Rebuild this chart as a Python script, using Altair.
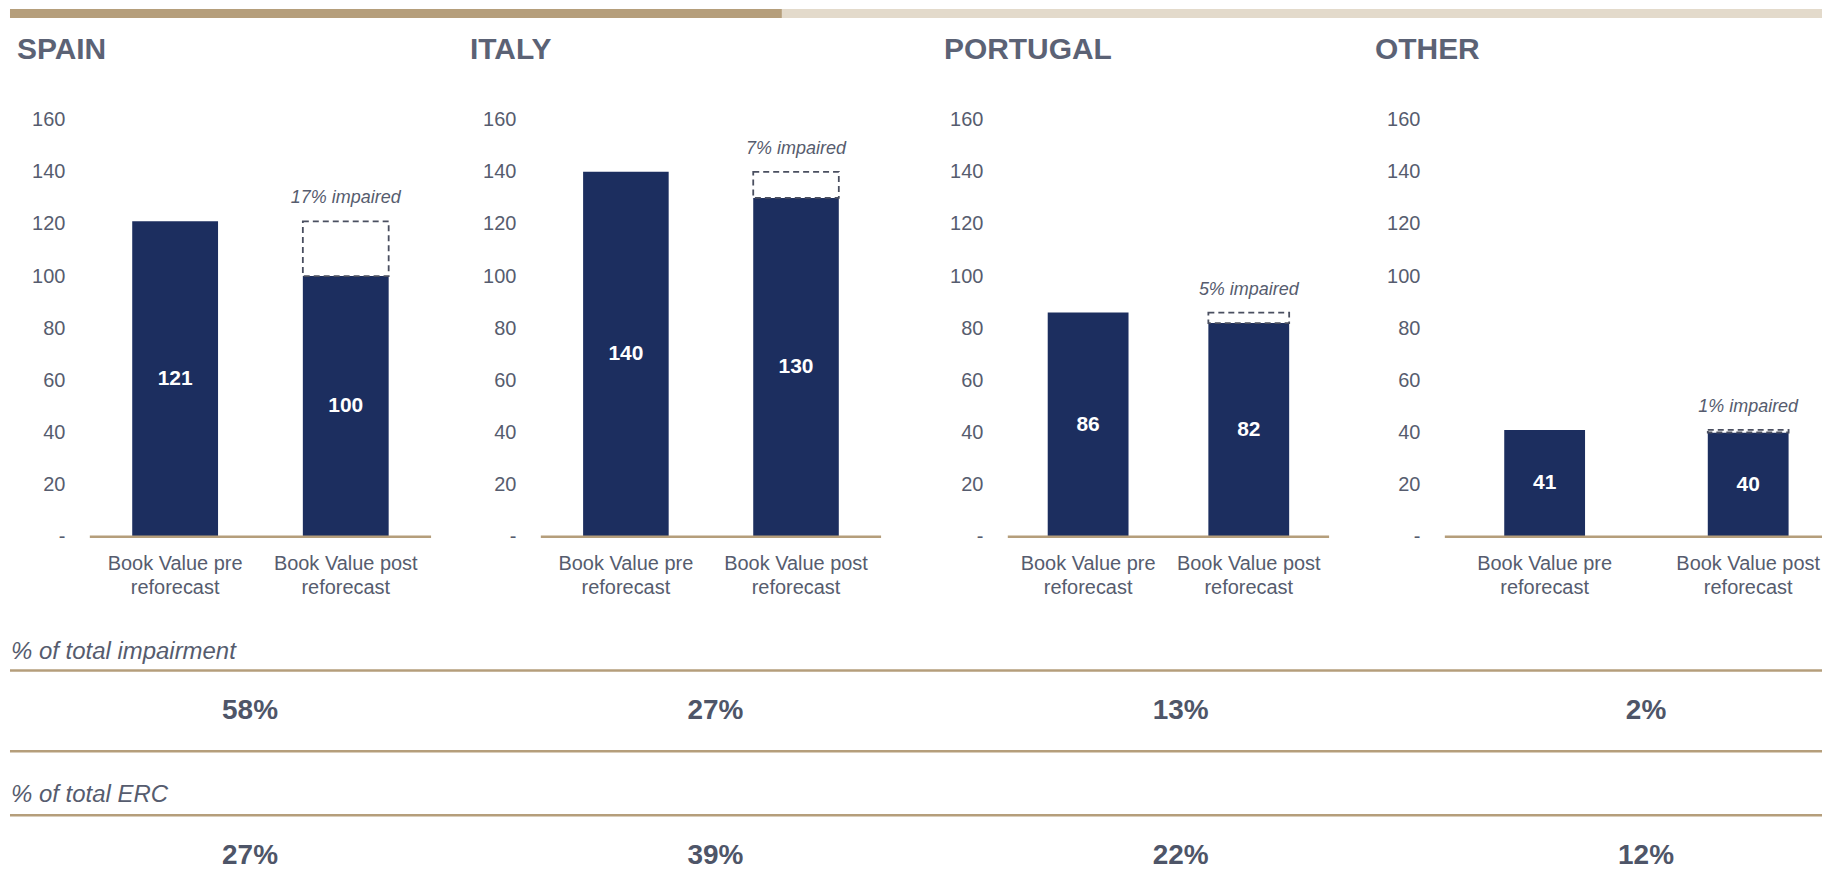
import altair as alt
import pandas as pd

# ---------------- data ----------------
countries = ["SPAIN", "ITALY", "PORTUGAL", "OTHER"]
categories = ["Book Value pre reforecast", "Book Value post reforecast"]
book_value_pre = [121, 140, 86, 41]
book_value_post = [100, 130, 82, 40]
impaired_labels = ["17% impaired", "7% impaired", "5% impaired", "1% impaired"]
metric_names = ["% of total impairment", "% of total ERC"]
impairment_share = [0.58, 0.27, 0.13, 0.02]
erc_share = [0.27, 0.39, 0.22, 0.12]
y_ticks = [0, 20, 40, 60, 80, 100, 120, 140, 160]
progress_split = [0.426]  # section indicator at top of the slide

# ---------------- styles ----------------
FONT = "Liberation Sans"
NAVY = "#1C2E5F"
TAN = "#B59E7B"
TAN_LIGHT = "#E3DACB"
GREY = "#565C6E"
TITLE_GREY = "#5B6275"
TOTAL_W = 1816

panel_widths = [342, 341, 322, 378]
gap_widths = [80, 110, 127, 116]
title_dx = [-73, -71, -64, -70]
band_params = [
    dict(paddingInner=0.497, paddingOuter=0.2485),
    dict(paddingInner=0.497, paddingOuter=0.2485),
    dict(paddingInner=0.497, paddingOuter=0.2485),
    dict(paddingInner=0.603, paddingOuter=0.228, align=0.64),
]
PLOT_H = 418


def spacer(w):
    return (
        alt.Chart(pd.DataFrame({"s": [0]}))
        .mark_rule(opacity=0)
        .encode(x=alt.value(0), y=alt.value(-102), y2=alt.value(488))
        .properties(width=w, height=PLOT_H)
    )


def panel(i):
    df = pd.DataFrame({
        "category": categories,
        "value": [book_value_pre[i], book_value_post[i]],
    })
    df["mid"] = df["value"] / 2
    box = pd.DataFrame({
        "category": [categories[1]],
        "pre": [book_value_pre[i]],
        "post": [book_value_post[i]],
        "label": [impaired_labels[i]],
    })
    xenc = alt.X(
        "category:N",
        sort=categories,
        scale=alt.Scale(domain=categories, **band_params[i]),
        axis=alt.Axis(
            title=None,
            labelAngle=0,
            domain=False,
            ticks=False,
            labelPadding=17,
            labelFont=FONT,
            labelFontSize=20,
            labelColor=GREY,
            labelLineHeight=24,
            labelOverlap=False,
            labelLimit=0,
            labelExpr="[replace(datum.label, ' reforecast', ''), 'reforecast']",
        ),
    )
    yscale = alt.Scale(domain=[0, 160], nice=False, zero=True)
    yenc = alt.Y(
        "value:Q",
        scale=yscale,
        axis=alt.Axis(
            title=None,
            values=y_ticks,
            domain=False,
            ticks=False,
            grid=False,
            labelPadding=25,
            labelFont=FONT,
            labelFontSize=20,
            labelColor=GREY,
            labelExpr="datum.value == 0 ? '-' : datum.label",
        ),
    )
    bars = alt.Chart(df).mark_bar(color=NAVY).encode(x=xenc, y=yenc)
    dashed = alt.Chart(box).mark_bar(
        fill="white", stroke="#4A4F60", strokeDash=[6, 4], strokeWidth=1.8
    ).encode(
        x=alt.X("category:N", sort=categories),
        y=alt.Y("pre:Q", title=None),
        y2="post:Q",
    )
    vals = alt.Chart(df).mark_text(
        font=FONT, fontSize=21, fontWeight="bold", color="white", baseline="middle"
    ).encode(
        x=alt.X("category:N", sort=categories),
        y=alt.Y("mid:Q", title=None),
        text=alt.Text("value:Q", format=".0f"),
    )
    imp = alt.Chart(box).mark_text(
        font=FONT, fontSize=18, fontStyle="italic", color=GREY, baseline="middle", dy=-23
    ).encode(
        x=alt.X("category:N", sort=categories),
        y=alt.Y("pre:Q", title=None),
        text="label:N",
    )
    base = alt.Chart(pd.DataFrame({"base": [0]})).mark_rule(
        color=TAN, strokeWidth=2.5
    ).encode(y=alt.Y("base:Q", title=None))
    return alt.layer(bars, dashed, vals, imp, base).properties(
        width=panel_widths[i],
        height=PLOT_H,
        title=alt.Title(
            countries[i],
            anchor="start",
            frame="group",
            dx=title_dx[i],
            offset=21,
            baseline="alphabetic",
            font=FONT,
            fontSize=30,
            fontWeight="bold",
            color=TITLE_GREY,
        ),
    )


# ---------------- header indicator ----------------
hdr_df = pd.DataFrame({
    "seg": ["done", "rest"],
    "start": [0, progress_split[0]],
    "end": [progress_split[0], 1],
})
header = alt.Chart(hdr_df).mark_rect().encode(
    x=alt.X("start:Q", scale=alt.Scale(domain=[0, 1], nice=False, zero=False), axis=None),
    x2="end:Q",
    y=alt.value(0),
    y2=alt.value(9),
    color=alt.Color("seg:N", scale=alt.Scale(domain=["done", "rest"], range=[TAN, TAN_LIGHT]), legend=None),
).properties(width=TOTAL_W, height=9)

# ---------------- panels ----------------
row_items = []
for i in range(4):
    row_items.append(spacer(gap_widths[i]))
    row_items.append(panel(i))
row = alt.hconcat(*row_items, spacing=0, bounds="flush")

# ---------------- table ----------------
tbl = pd.DataFrame({
    "country": countries * 2,
    "metric": [metric_names[0]] * 4 + [metric_names[1]] * 4,
    "share": impairment_share + erc_share,
})
xs = alt.X(
    "country:N",
    scale=alt.Scale(type="point", domain=countries, padding=0.447, align=0.577),
    axis=None,
)


def rule_at(ypix):
    return alt.Chart(pd.DataFrame({"r": [0]})).mark_rule(color=TAN, strokeWidth=2.5).encode(
        x=alt.value(0), x2=alt.value(TOTAL_W), y=alt.value(ypix)
    )


def metric_header(k, ypix):
    return alt.Chart(pd.DataFrame({"metric": [metric_names[k]]})).mark_text(
        font=FONT, fontSize=24, fontStyle="italic", color=GREY, align="left", baseline="middle"
    ).encode(x=alt.value(1), y=alt.value(ypix), text="metric:N")


def metric_values(k, ypix):
    return alt.Chart(tbl).transform_filter(
        alt.datum.metric == metric_names[k]
    ).mark_text(
        font=FONT, fontSize=28, fontWeight="bold", color="#4E5568", baseline="middle"
    ).encode(x=xs, y=alt.value(ypix), text=alt.Text("share:Q", format=".0%"))


table = alt.layer(
    metric_values(0, 105),
    metric_values(1, 250),
    metric_header(0, 45),
    metric_header(1, 189),
    rule_at(64),
    rule_at(145),
    rule_at(209),
).properties(width=TOTAL_W, height=264)

chart = alt.vconcat(header, row, table, spacing=0).properties(
    padding=0, background="white"
).configure_view(strokeWidth=0)

chart.save("out.html", embed_options={"renderer": "svg", "actions": False})
